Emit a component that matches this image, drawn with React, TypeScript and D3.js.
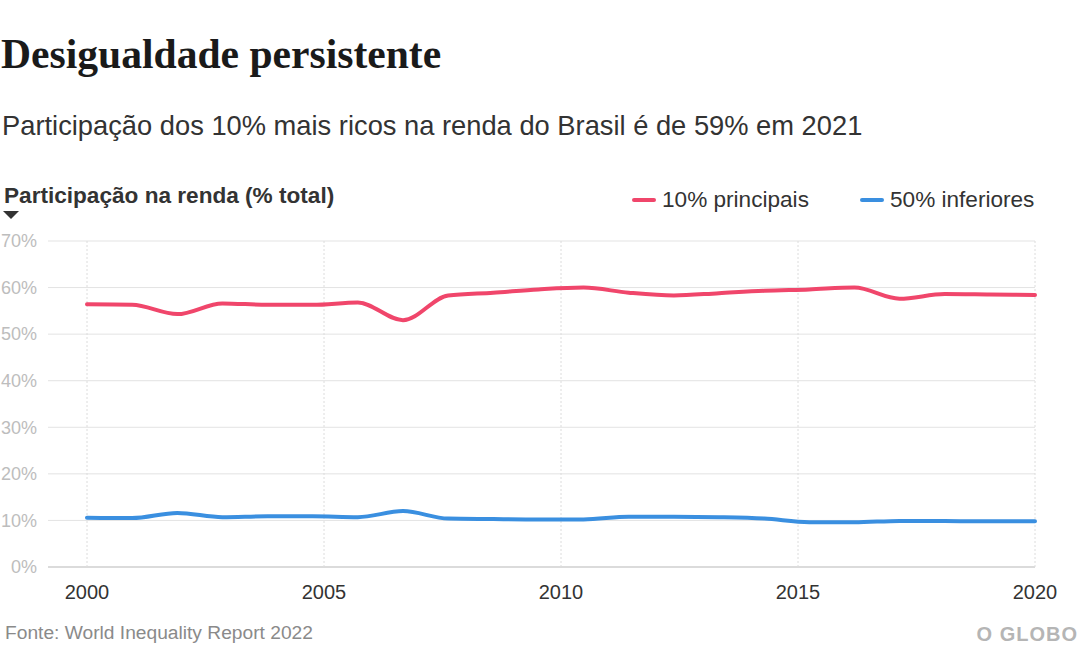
import React from "react";
import * as d3 from "d3";

const years = [2000, 2001, 2002, 2003, 2004, 2005, 2006, 2007, 2008, 2009, 2010, 2011, 2012, 2013, 2014, 2015, 2016, 2017, 2018, 2019, 2020, 2021];
const top10 = [56.4, 56.3, 54.3, 56.6, 56.3, 56.3, 56.8, 53.0, 58.3, 58.9, 59.6, 60.0, 58.9, 58.3, 58.8, 59.3, 59.6, 60.0, 57.6, 58.6, 58.5, 58.4];
const bottom50 = [10.6, 10.5, 11.6, 10.7, 10.9, 10.9, 10.7, 12.0, 10.4, 10.3, 10.2, 10.2, 10.8, 10.8, 10.7, 10.4, 9.6, 9.6, 9.9, 9.9, 9.8, 9.8];
const xTicks = [2000, 2005, 2010, 2015, 2020];
const yTicks = [0, 10, 20, 30, 40, 50, 60, 70];
const seriesNames = ["10% principais", "50% inferiores"];
const seriesColors = ["#f0466b", "#3a8fe0"];

const W = 1086;
const H = 652;
const left = 87;
const right = 1035;
const top = 241;
const bottom = 567;

export default function App() {
  const xData = d3.scaleLinear().domain([years[0], years[years.length - 1]]).range([left, right]);
  const xAxis = d3.scaleLinear().domain([xTicks[0], xTicks[xTicks.length - 1]]).range([left, right]);
  const y = d3.scaleLinear().domain([0, 70]).range([bottom, top]);
  const line = d3
    .line<number>()
    .x((_, i) => xData(years[i]))
    .y((d) => y(d))
    .curve(d3.curveMonotoneX);
  const series = [top10, bottom50];
  const sans = "'Liberation Sans', Arial, sans-serif";
  return (
    <svg width={W} height={H} style={{ position: "absolute", left: 0, top: 0, background: "#fff" }} fontFamily={sans}>
      <rect x={0} y={0} width={W} height={H} fill="#fff" />
      <text x={1} y={68} fontFamily="'Liberation Serif', 'Times New Roman', serif" fontWeight="bold" fontSize={41.6} fill="#1a1a1a">
        Desigualdade persistente
      </text>
      <text x={2} y={135} fontSize={27.3} fill="#333">
        Participação dos 10% mais ricos na renda do Brasil é de 59% em 2021
      </text>
      <text x={4} y={203} fontSize={22.6} fontWeight="bold" fill="#333">
        Participação na renda (% total)
      </text>
      <path d="M3,211L19,211L11,219Z" fill="#333" />
      {seriesNames.map((n, i) => {
        const lx = [634, 862][i];
        return (
          <g key={n}>
            <line x1={lx} x2={lx + 20} y1={200} y2={200} stroke={seriesColors[i]} strokeWidth={4} strokeLinecap="round" />
            <text x={lx + 28} y={207} fontSize={22.6} fill="#333">
              {n}
            </text>
          </g>
        );
      })}
      {yTicks.map((t) => (
        <g key={t}>
          <line x1={48} x2={right} y1={y(t)} y2={y(t)} stroke={t === 0 ? "#cfcfcf" : "#e3e3e3"} strokeWidth={t === 0 ? 1.5 : 1} />
          <text x={37} y={y(t)} dy="0.35em" textAnchor="end" fontSize={18} fill="#bdbdbd">
            {t}%
          </text>
        </g>
      ))}
      {xTicks.map((t) => (
        <g key={t}>
          <line x1={xAxis(t)} x2={xAxis(t)} y1={top} y2={bottom} stroke="#dcdcdc" strokeWidth={1} strokeDasharray="2,2" />
          <text x={xAxis(t)} y={599} textAnchor="middle" fontSize={20} fill="#333">
            {t}
          </text>
        </g>
      ))}
      {series.map((s, i) => (
        <path key={i} d={line(s) || ""} fill="none" stroke={seriesColors[i]} strokeWidth={4} strokeLinecap="round" strokeLinejoin="round" />
      ))}
      <text x={5} y={639} fontSize={19.2} fill="#8a8a8a">
        Fonte: World Inequality Report 2022
      </text>
      <text x={1078} y={641} textAnchor="end" fontSize={20} fontWeight="bold" fill="#b5b5b5" letterSpacing={1}>
        O GLOBO
      </text>
    </svg>
  );
}
